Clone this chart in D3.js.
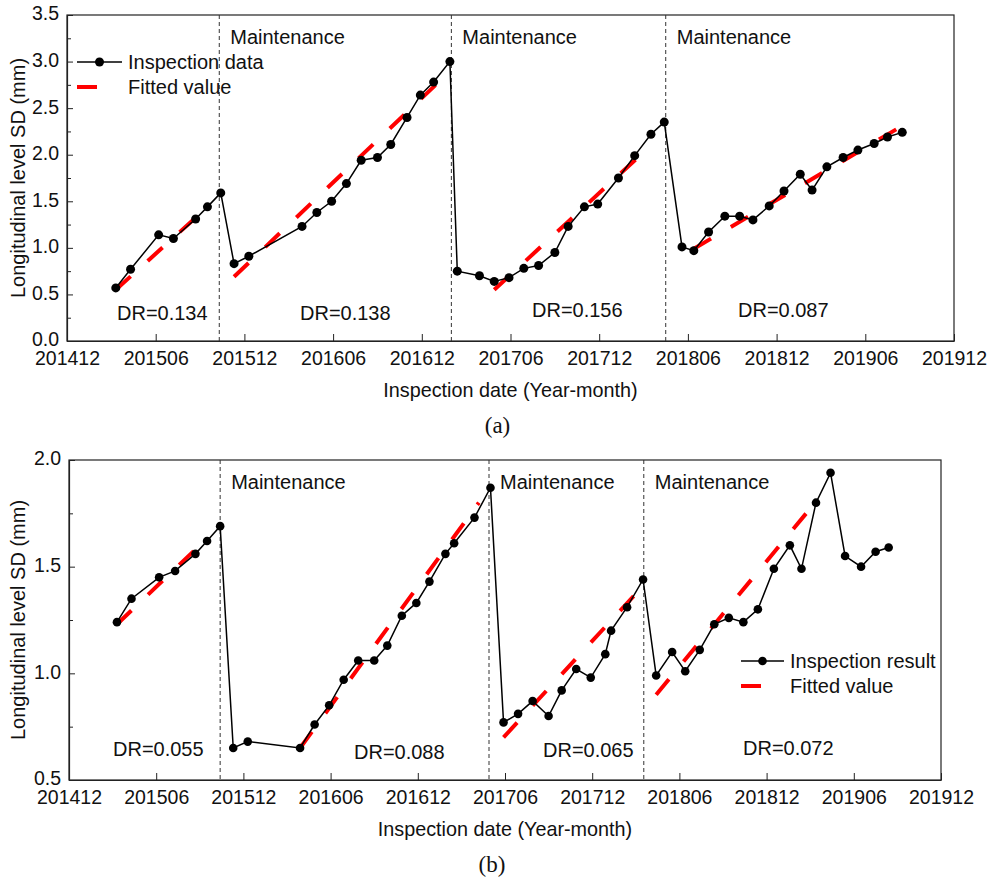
<!DOCTYPE html>
<html>
<head>
<meta charset="utf-8">
<script src="https://cdn.jsdelivr.net/npm/d3@7"></script>
<style>
  body { margin: 0; background: #fff; }
  svg text { font-family: "Liberation Sans", Arial, sans-serif; fill: #111; }
</style>
</head>
<body>
<svg id="chart" width="1005" height="879"></svg>
<script>
// x values are months after 2014-12 (201412 = 0)
var tickMonths = [0, 6, 12, 18, 24, 30, 36, 42, 48, 54, 60];
var tickLabels = ['201412', '201506', '201512', '201606', '201612', '201706', '201712', '201806', '201812', '201906', '201912'];

// panel (a)
var aMonth = [3.3, 4.3, 6.2, 7.2, 8.7, 9.5, 10.4, 11.3, 12.3, 15.9, 16.9, 17.9, 18.9, 19.9, 21.0, 21.9, 23.0, 23.9, 24.8, 25.9,
  26.4, 27.9, 28.9, 29.9, 30.9, 31.9, 33.0, 33.9, 35.0, 35.9, 37.3, 38.4, 39.5, 40.4,
  41.6, 42.4, 43.4, 44.5, 45.5, 46.4, 47.5, 48.5, 49.6, 50.4, 51.4, 52.5, 53.5, 54.6, 55.5, 56.5];
var aValue = [0.57, 0.77, 1.14, 1.10, 1.31, 1.44, 1.59, 0.83, 0.91, 1.23, 1.38, 1.50, 1.69, 1.94, 1.97, 2.11, 2.40, 2.64, 2.78, 3.00,
  0.75, 0.70, 0.64, 0.68, 0.78, 0.81, 0.95, 1.23, 1.44, 1.47, 1.75, 1.99, 2.22, 2.35,
  1.01, 0.97, 1.17, 1.34, 1.34, 1.30, 1.45, 1.61, 1.79, 1.62, 1.87, 1.97, 2.05, 2.12, 2.19, 2.24];
var aFitStartMonth = [3.3, 11.3, 28.9, 42.4];
var aFitStartValue = [0.55, 0.69, 0.55, 0.99];
var aFitEndMonth = [9.3, 26.0, 39.5, 56.5];
var aFitEndValue = [1.41, 2.91, 2.10, 2.31];
var aMaint = [10.3, 26.0, 40.5];
var aDR = ['DR=0.134', 'DR=0.138', 'DR=0.156', 'DR=0.087'];

// panel (b)
var bMonth = [3.3, 4.3, 6.2, 7.3, 8.7, 9.5, 10.4, 11.3, 12.3, 15.9, 16.9, 17.9, 18.9, 19.9, 21.0, 21.9, 22.9, 23.9, 24.8, 25.9, 26.5, 27.9, 29.0,
  29.9, 30.9, 31.9, 33.0, 33.9, 34.9, 35.9, 36.9, 37.3, 38.4, 39.5,
  40.4, 41.5, 42.4, 43.4, 44.4, 45.4, 46.4, 47.4, 48.5, 49.6, 50.4, 51.4, 52.4, 53.4, 54.5, 55.5, 56.4];
var bValue = [1.24, 1.35, 1.45, 1.48, 1.56, 1.62, 1.69, 0.65, 0.68, 0.65, 0.76, 0.85, 0.97, 1.06, 1.06, 1.13, 1.27, 1.33, 1.43, 1.56, 1.61, 1.73, 1.87,
  0.77, 0.81, 0.87, 0.80, 0.92, 1.02, 0.98, 1.09, 1.20, 1.31, 1.44,
  0.99, 1.10, 1.01, 1.11, 1.23, 1.26, 1.24, 1.30, 1.49, 1.60, 1.49, 1.80, 1.94, 1.55, 1.50, 1.57, 1.59];
var bFitStartMonth = [3.3, 15.9, 29.9, 40.4];
var bFitStartValue = [1.23, 0.65, 0.70, 0.90];
var bFitEndMonth = [9.3, 28.2, 39.5, 51.7];
var bFitEndValue = [1.62, 1.80, 1.41, 1.83];
var bMaint = [10.4, 28.9, 39.55];
var bDR = ['DR=0.055', 'DR=0.088', 'DR=0.065', 'DR=0.072'];

var svg = d3.select('#chart');

function drawPanel(p) {
  var x = d3.scaleLinear().domain([0, 60]).range([p.left, p.right]);
  var y = d3.scaleLinear().domain(p.yDomain).range([p.bottom, p.top]);
  var g = svg.append('g');

  // frame
  g.append('rect')
    .attr('x', p.left).attr('y', p.top)
    .attr('width', p.right - p.left).attr('height', p.bottom - p.top)
    .attr('fill', 'none').attr('stroke', '#222').attr('stroke-width', 1.2);

  // x axis, ticks pointing in
  var xAxis = g.append('g')
    .attr('transform', 'translate(0,' + p.bottom + ')')
    .call(d3.axisBottom(x).tickValues(tickMonths)
      .tickFormat(function (d, i) { return tickLabels[i]; })
      .tickSizeInner(-7).tickSizeOuter(0).tickPadding(10));
  // y axis
  var yAxis = g.append('g')
    .attr('transform', 'translate(' + p.left + ',0)')
    .call(d3.axisLeft(y).tickValues(p.yTicks)
      .tickFormat(d3.format('.1f'))
      .tickSizeInner(-6).tickSizeOuter(0).tickPadding(8));
  g.append('g')
    .attr('transform', 'translate(' + p.left + ',0)')
    .call(d3.axisLeft(y).tickValues(p.yMinor).tickFormat('')
      .tickSizeInner(-4).tickSizeOuter(0))
    .select('.domain').remove();
  [xAxis, yAxis].forEach(function (a) {
    a.selectAll('text').attr('font-size', 19.5).attr('font-family', '"Liberation Sans", Arial, sans-serif').attr('fill', '#111');
    a.select('.domain').attr('stroke', '#222').attr('stroke-width', 1.2);
  });
  yAxis.selectAll('text').attr('dy', '0.25em');
  g.selectAll('.tick line').attr('stroke', '#222');

  // maintenance lines
  g.selectAll('.maint').data(p.maint).enter().append('line')
    .attr('x1', function (d) { return x(d); }).attr('x2', function (d) { return x(d); })
    .attr('y1', p.top).attr('y2', p.bottom)
    .attr('stroke', '#333').attr('stroke-width', 1).attr('stroke-dasharray', '4,3');
  g.selectAll('.mtext').data(p.maint).enter().append('text')
    .attr('x', function (d) { return x(d) + 11; })
    .attr('y', p.maintY)
    .attr('font-size', 20)
    .text('Maintenance');

  // fitted lines
  p.fitStartMonth.forEach(function (m, i) {
    g.append('line')
      .attr('x1', x(m)).attr('y1', y(p.fitStartValue[i]))
      .attr('x2', x(p.fitEndMonth[i])).attr('y2', y(p.fitEndValue[i]))
      .attr('stroke', '#ff0000').attr('stroke-width', 4)
      .attr('stroke-dasharray', '20,23');
  });

  // data line and markers
  var line = d3.line()
    .x(function (d, i) { return x(p.month[i]); })
    .y(function (d) { return y(d); });
  g.append('path').datum(p.value)
    .attr('d', line).attr('fill', 'none')
    .attr('stroke', '#000').attr('stroke-width', 1.5);
  g.selectAll('.dot').data(p.value).enter().append('circle')
    .attr('cx', function (d, i) { return x(p.month[i]); })
    .attr('cy', function (d) { return y(d); })
    .attr('r', p.r).attr('fill', '#000');

  // DR labels
  g.selectAll('.dr').data(p.dr).enter().append('text')
    .attr('x', function (d, i) { return p.drX[i]; })
    .attr('y', function (d, i) { return p.drY[i]; })
    .attr('font-size', 20)
    .text(function (d) { return d; });

  // legend
  var lg = g.append('g').attr('transform', 'translate(' + p.legX + ',' + p.legY + ')');
  lg.append('line').attr('x1', 0).attr('x2', p.legLen).attr('y1', 0).attr('y2', 0)
    .attr('stroke', '#000').attr('stroke-width', 1.5);
  lg.append('circle').attr('cx', p.legLen / 2).attr('cy', 0).attr('r', p.r).attr('fill', '#000');
  lg.append('text').attr('x', p.legLen + 6).attr('y', 7).attr('font-size', 20).text(p.legText);
  lg.append('line').attr('x1', 0).attr('x2', 20).attr('y1', 25).attr('y2', 25)
    .attr('stroke', '#ff0000').attr('stroke-width', 4);
  lg.append('text').attr('x', p.legLen + 6).attr('y', 32).attr('font-size', 20).text('Fitted value');

  // axis titles
  svg.append('text')
    .attr('transform', 'translate(25,' + ((p.top + p.bottom) / 2) + ') rotate(-90)')
    .attr('text-anchor', 'middle').attr('font-size', 20)
    .text('Longitudinal level SD (mm)');
  svg.append('text')
    .attr('x', (p.left + p.right) / 2).attr('y', p.bottom + 56)
    .attr('text-anchor', 'middle').attr('font-size', 19.8)
    .text('Inspection date (Year-month)');
  svg.append('text')
    .attr('x', (p.left + p.right) / 2 - 13).attr('y', p.bottom + 92)
    .attr('text-anchor', 'middle').attr('font-size', 23)
    .style('font-family', '"Liberation Serif", "Times New Roman", serif')
    .text(p.caption);
}

drawPanel({
  left: 67, right: 954, top: 15, bottom: 341,
  yDomain: [0, 3.5],
  yTicks: [0, 0.5, 1.0, 1.5, 2.0, 2.5, 3.0, 3.5],
  yMinor: [0.25, 0.75, 1.25, 1.75, 2.25, 2.75, 3.25],
  month: aMonth, value: aValue, r: 4.5,
  fitStartMonth: aFitStartMonth, fitStartValue: aFitStartValue,
  fitEndMonth: aFitEndMonth, fitEndValue: aFitEndValue,
  maint: aMaint, maintY: 44,
  dr: aDR, drX: [117, 300, 532, 738], drY: [320, 320, 317, 317],
  legX: 77, legY: 62, legLen: 45, legText: 'Inspection data',
  caption: '(a)'
});

drawPanel({
  left: 69, right: 941, top: 460, bottom: 780,
  yDomain: [0.5, 2.0],
  yTicks: [0.5, 1.0, 1.5, 2.0],
  yMinor: [0.75, 1.25, 1.75],
  month: bMonth, value: bValue, r: 4.3,
  fitStartMonth: bFitStartMonth, fitStartValue: bFitStartValue,
  fitEndMonth: bFitEndMonth, fitEndValue: bFitEndValue,
  maint: bMaint, maintY: 489,
  dr: bDR, drX: [113, 354, 543, 743], drY: [756, 759, 757, 755],
  legX: 741, legY: 661, legLen: 43, legText: 'Inspection result',
  caption: '(b)'
});
</script>
</body>
</html>
